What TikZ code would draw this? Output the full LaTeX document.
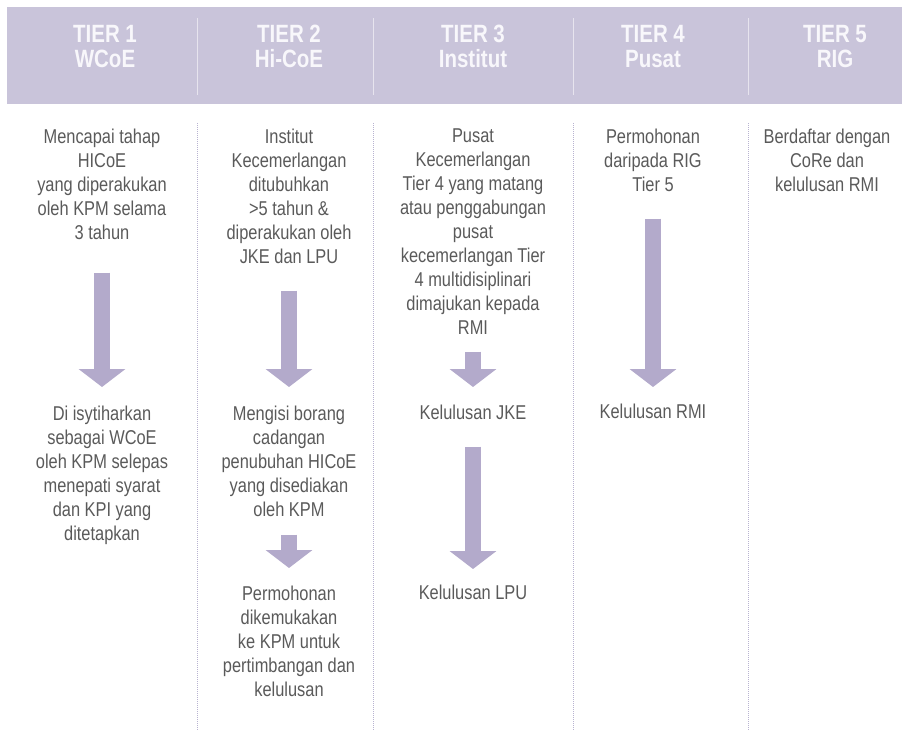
\documentclass[tikz,border=0pt]{standalone}
\usepackage{fontspec}
\setmainfont{Liberation Sans}[FakeStretch=0.82]
\usepackage{xcolor}
\usetikzlibrary{positioning,calc,arrows.meta}

\definecolor{band}{HTML}{C9C4DA}
\definecolor{arrowfill}{HTML}{B3AACB}
\definecolor{bodygray}{HTML}{5A5A5A}
\definecolor{headtext}{HTML}{F8F7FB}
\definecolor{divline}{HTML}{B8B3D0}

\newcommand{\headfnt}{\bfseries\fontsize{25}{25}\selectfont}
\newcommand{\bodyfnt}{\fontsize{20}{24}\selectfont}

\tikzset{
  tierhead/.style={font=\headfnt, text=headtext, align=center, inner sep=0pt, anchor=north},
  steptext/.style={font=\bodyfnt, text=bodygray, align=center, inner sep=0pt, anchor=north},
  bigarrow/.style={draw=arrowfill, line width=16pt, -{Triangle[width=46pt,length=18pt]}},
  coldiv/.style={draw=divline, line width=0.8pt, dash pattern=on 1pt off 1pt},
  headdiv/.style={draw=white!55!band, line width=1pt}
}

\begin{document}
\begin{tikzpicture}[x=1pt,y=1pt]
    \useasboundingbox (0,0) rectangle (902,-731);

    % header band
    \fill[band] (7,-7) rectangle (902,-104);
    \foreach \x in {197,373,573,748}
        \draw[headdiv] (\x,-18) -- (\x,-95);
    \foreach \x/\name/\lbl in {105/h1/{TIER 1\\WCoE}, 289/h2/{TIER 2\\Hi-CoE}, 473/h3/{TIER 3\\Institut}, 653/h4/{TIER 4\\Pusat}, 835/h5/{TIER 5\\RIG}}
        \node[tierhead] (\name) at (\x,-25) {\lbl};

    % column dividers
    \foreach \x in {197,373,573,748}
        \draw[coldiv] (\x,-123) -- (\x,-731);

    % Tier 1
    \node[steptext] (t1) at (102,-128.5) {Mencapai tahap\\HICoE\\yang diperakukan\\oleh KPM selama\\3 tahun};
    \node[steptext] (b1) at (102,-405.5) {Di isytiharkan\\sebagai WCoE\\oleh KPM selepas\\menepati syarat\\dan KPI yang\\ditetapkan};
    \draw[bigarrow] ([yshift=-33pt]t1.south) -- ([yshift=18.5pt]b1.north);

    % Tier 2
    \node[steptext] (t2) at (289,-128.5) {Institut\\Kecemerlangan\\ditubuhkan\\>5 tahun \&\\diperakukan oleh\\JKE dan LPU};
    \node[steptext] (m2) at (289,-405.5) {Mengisi borang\\cadangan\\penubuhan HICoE\\yang disediakan\\oleh KPM};
    \node[steptext] (b2) at (289,-585.5) {Permohonan\\dikemukakan\\ke KPM untuk\\pertimbangan dan\\kelulusan};
    \draw[bigarrow] ([yshift=-27pt]t2.south) -- ([yshift=18.5pt]m2.north);
    \draw[bigarrow] ([yshift=-18pt]m2.south) -- ([yshift=17.5pt]b2.north);

    % Tier 3
    \node[steptext] (t3) at (473,-128.5) {Pusat\\Kecemerlangan\\Tier 4 yang matang\\atau penggabungan\\pusat\\kecemerlangan Tier\\4 multidisiplinari\\dimajukan kepada\\RMI};
    \node[steptext] (m3) at (473,-404.5) {Kelulusan JKE};
    \node[steptext] (b3) at (473,-584.5) {Kelulusan LPU};
    \draw[bigarrow] ([yshift=-17pt]t3.south) -- ([yshift=17.5pt]m3.north);
    \draw[bigarrow] ([yshift=-27pt]m3.south) -- ([yshift=15.5pt]b3.north);

    % Tier 4
    \node[steptext] (t4) at (653,-128.5) {Permohonan\\daripada RIG\\Tier 5};
    \node[steptext] (m4) at (653,-403.5) {Kelulusan RMI};
    \draw[bigarrow] ([yshift=-27pt]t4.south) -- ([yshift=16.5pt]m4.north);

    % Tier 5
    \node[steptext] (t5) at (827,-128.5) {Berdaftar dengan\\CoRe dan\\kelulusan RMI};
\end{tikzpicture}
\end{document}
